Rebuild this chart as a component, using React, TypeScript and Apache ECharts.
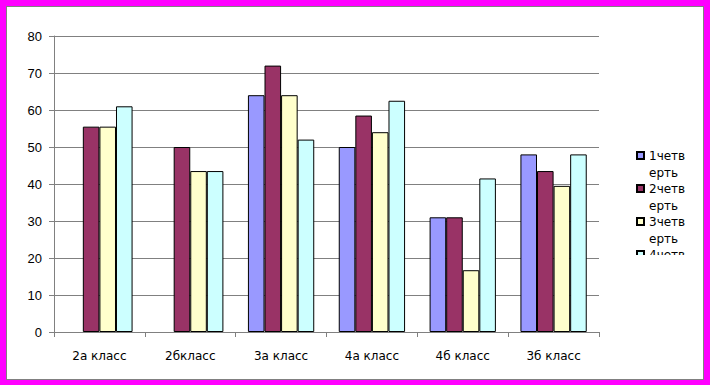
import React, { useEffect, useRef } from "react";
import * as echarts from "echarts";

const categories = ["2а класс", "2бкласс", "3а класс", "4а класс", "4б класс", "3б класс"];
const seriesNames = ["1четверть", "2четверть", "3четверть", "4четверть"];
const q1 = [0, 0, 64, 50, 31, 48];
const q2 = [55.5, 50, 72, 58.5, 31, 43.5];
const q3 = [55.5, 43.5, 64, 54, 16.7, 39.5];
const q4 = [61, 43.5, 52, 62.5, 41.5, 48];
const colors = ["#9999FF", "#993366", "#FFFFCC", "#CCFFFF"];
const yTicks = { min: 0, max: 80, interval: 10 };

const FONT = "'Liberation Sans', Arial, sans-serif";
const FONT2 = "'DejaVu Sans', sans-serif";

export default function App() {
  const ref = useRef<HTMLDivElement>(null);
  useEffect(() => {
    document.body.style.margin = "0";
    if (!ref.current) return;
    const chart = echarts.init(ref.current, null, { renderer: "svg" });
    const all = [q1, q2, q3, q4];
    chart.setOption({
      animation: false,
      backgroundColor: "transparent",
      textStyle: { fontFamily: FONT },
      grid: { left: 54, right: 111, top: 36, bottom: 53 },
      legend: {
        orient: "vertical",
        left: 636,
        top: 130,
        padding: 0,
        itemWidth: 7,
        itemHeight: 7,
        itemGap: -18,
        icon: "rect",
        data: seriesNames,
        formatter: (n: string) => "\n" + n.slice(0, 5) + "\n" + n.slice(5),
        textStyle: {
          fontFamily: FONT2,
          fontSize: 12,
          color: "#000",
          lineHeight: 17,
        },
      },
      xAxis: {
        type: "category",
        data: categories,
        axisLine: { lineStyle: { color: "#808080", width: 1 } },
        axisTick: { show: true, length: 5, lineStyle: { color: "#808080" } },
        axisLabel: { color: "#000", fontSize: 12, margin: 18, fontFamily: FONT2 },
      },
      yAxis: {
        type: "value",
        min: yTicks.min,
        max: yTicks.max,
        interval: yTicks.interval,
        axisLine: { show: true, lineStyle: { color: "#808080", width: 1 } },
        axisTick: { show: true, length: 5, lineStyle: { color: "#808080" } },
        axisLabel: { color: "#000", fontSize: 13, margin: 12, fontFamily: FONT },
        splitLine: { lineStyle: { color: "#808080", width: 1 } },
      },
      series: seriesNames.map((name, i) => ({
        name,
        type: "bar",
        barGap: "0%",
        barCategoryGap: "27%",
        itemStyle: { color: colors[i], borderColor: "#000", borderWidth: 1 },
        data: all[i].map((v) => (v === 0 ? { value: 0, itemStyle: { borderWidth: 0 } } : v)),
      })),
      graphic: [
        {
          type: "rect",
          z: 100,
          shape: { x: 620, y: 255, width: 83, height: 40 },
          style: { fill: "#fff" },
        },
      ],
    });
    return () => chart.dispose();
  }, []);
  return (
    <div style={{ position: "relative", width: 710, height: 385, background: "#FF00FF" }}>
      <div
        style={{
          position: "absolute",
          left: 6,
          top: 6,
          width: 698,
          height: 374,
          background: "#fff",
          border: "1px solid #808080",
          boxSizing: "border-box",
        }}
      />
      <div ref={ref} style={{ position: "absolute", left: 0, top: 0, width: 710, height: 385 }} />
    </div>
  );
}
